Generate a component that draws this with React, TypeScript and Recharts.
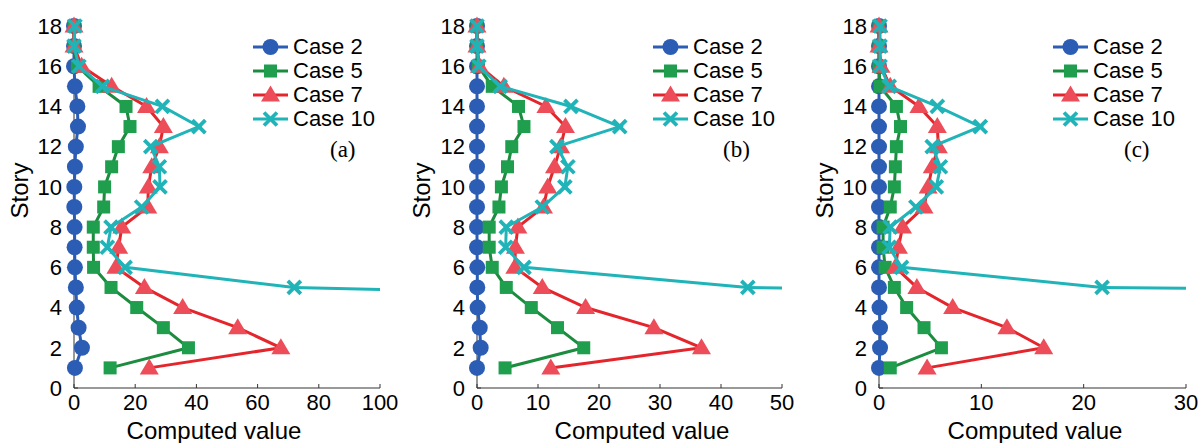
import React from 'react';
import { ScatterChart, Scatter, XAxis, YAxis, Legend } from 'recharts';

// ---------- data ----------
const stories = [1, 2, 3, 4, 5, 6, 7, 8, 9, 10, 11, 12, 13, 14, 15, 16, 17, 18];
const stories10 = [4, 5, 6, 7, 8, 9, 10, 11, 12, 13, 14, 15, 16, 17, 18];
const storyTicks = [0, 2, 4, 6, 8, 10, 12, 14, 16, 18];

const ticksA = [0, 20, 40, 60, 80, 100];
const ticksB = [0, 10, 20, 30, 40, 50];
const ticksC = [0, 10, 20, 30];

const caseNames = ['Case 2', 'Case 5', 'Case 7', 'Case 10'];
const panelLabels = ['(a)', '(b)', '(c)'];

// Panel (a)
const case2A = [0.3, 2.6, 1.5, 0.9, 0.6, 0.3, 0.2, 0.2, 0.1, 0.1, 0.3, 0.6, 1.3, 1.1, 0.3, 0, 0, 0];
const case5A = [11.8, 37.4, 29.2, 20.5, 12.1, 6.4, 6.3, 6.3, 9.7, 10.0, 12.3, 14.5, 18.3, 17.0, 8.2, 1.1, 0, 0];
const case7A = [24.6, 67.6, 53.5, 35.5, 23.0, 13.7, 14.6, 15.6, 24.1, 24.3, 25.4, 27.9, 29.2, 23.7, 12.3, 2.5, 0, 0];
const case10A = [350, 72.0, 16.7, 10.9, 12.1, 22.1, 28.1, 27.9, 25.1, 40.8, 28.9, 9.3, 1.6, 0, 0.3];

// Panel (b)
const case2B = [0, 0.6, 0.45, 0.1, 0.05, 0.05, 0, 0, 0, 0, 0, 0, 0, 0, 0, 0, 0, 0];
const case5B = [4.6, 17.5, 13.2, 8.9, 4.8, 2.5, 2.0, 2.0, 3.6, 4.0, 5.0, 5.7, 7.7, 6.8, 2.5, 0.2, 0, 0];
const case7B = [12.1, 36.8, 29.0, 17.8, 10.7, 6.2, 6.3, 6.7, 10.9, 11.6, 12.7, 13.7, 14.5, 11.3, 4.4, 0.4, 0, 0];
const case10B = [215, 44.4, 7.7, 4.7, 4.8, 10.7, 14.4, 14.9, 13.1, 23.4, 15.4, 3.8, 0.3, 0, 0];

// Panel (c)
const case2C = [0, 0.1, 0.1, 0.05, 0, 0, 0, 0, 0, 0, 0, 0, 0, 0, 0, 0, 0, 0];
const case5C = [1.1, 6.1, 4.4, 2.7, 1.5, 0.6, 0.4, 0.4, 1.1, 1.5, 1.6, 1.7, 2.1, 1.7, 0.1, 0, 0, 0];
const case7C = [4.7, 16.1, 12.5, 7.2, 3.7, 1.6, 1.9, 2.3, 4.4, 4.8, 5.2, 5.8, 5.7, 3.9, 1.1, 0.2, 0, 0];
const case10C = [260, 21.8, 2.2, 1.0, 1.1, 3.6, 5.6, 6.0, 5.2, 9.9, 5.7, 1.0, 0.1, 0.1, 0.1];

// ---------- styles ----------
const BLUE = '#2C5DB4';
const GREEN_LINE = '#1C8C3F';
const GREEN_FILL = '#1F9E4E';
const RED_LINE = '#E4262C';
const RED_FILL = '#EC4D58';
const CYAN = '#20B4B8';
const AXIS = '#333333';
const SANS = '"Liberation Sans", Arial, sans-serif';
const SERIF = '"Liberation Serif", "Times New Roman", serif';

const toPoints = (ys: number[], xs: number[]) => ys.map((y, i) => ({ x: xs[i], y }));

const Circle = (p: any) => <circle cx={p.cx} cy={p.cy} r={8} fill={BLUE} />;
const Square = (p: any) => (
  <rect x={p.cx - 6.5} y={p.cy - 6.5} width={13} height={13} fill={GREEN_FILL} />
);
const Tri = (p: any) => (
  <polygon
    points={`${p.cx},${p.cy - 9.5} ${p.cx - 9.5},${p.cy + 6.5} ${p.cx + 9.5},${p.cy + 6.5}`}
    fill={RED_FILL}
  />
);
const Cross = (p: any) => (
  <g stroke={CYAN} strokeWidth={3.8} strokeLinecap="butt">
    <line x1={p.cx - 6.5} y1={p.cy - 6.5} x2={p.cx + 6.5} y2={p.cy + 6.5} />
    <line x1={p.cx - 6.5} y1={p.cy + 6.5} x2={p.cx + 6.5} y2={p.cy - 6.5} />
  </g>
);
const Nothing = () => <g />;

const legendItems = [
  { color: BLUE, Shape: Circle, width: 3 },
  { color: GREEN_LINE, Shape: Square, width: 3 },
  { color: RED_LINE, Shape: Tri, width: 3 },
  { color: CYAN, Shape: Cross, width: 3 },
];

type PanelProps = {
  left: number;
  width: number;
  plotLeft: number;
  plotRight: number;
  xMax: number;
  xTicks: number[];
  c2: number[];
  c5: number[];
  c7: number[];
  c10: number[];
  tag: string;
  tagOffset: number;
  xLabelX: number;
  storyX: number;
};

const HEIGHT = 443;
const PLOT_TOP = 26;
const PLOT_BOTTOM = 388;
const YAXIS_W = 40;

function Panel(props: PanelProps) {
  const { left, width, plotLeft, plotRight, xMax, xTicks, c2, c5, c7, c10, tag, tagOffset, xLabelX, storyX } = props;
  const d2 = toPoints(stories, c2);
  const d5 = toPoints(stories, c5);
  const d7 = toPoints(stories, c7);
  const d10 = toPoints(stories10, c10);
  const d10main = d10.slice(1);
  const d10tail = d10.slice(0, 2);

  const tickStyle = { fontFamily: SANS, fontSize: 22, fill: '#000' };

  const legendContent = () => (
    <div style={{ fontFamily: SANS, fontSize: 22, color: '#000', lineHeight: '24px' }}>
      {legendItems.map((it, i) => (
        <div key={i} style={{ display: 'flex', alignItems: 'center', height: 24, whiteSpace: 'nowrap' }}>
          <svg width={40} height={24} style={{ overflow: 'visible' }}>
            <line x1={0} y1={12} x2={35} y2={12} stroke={it.color} strokeWidth={it.width} />
            <it.Shape cx={17.5} cy={12} />
          </svg>
          <span>{caseNames[i]}</span>
        </div>
      ))}
      <div style={{ fontFamily: SERIF, fontSize: 23, marginLeft: tagOffset, marginTop: 7 }}>{tag}</div>
    </div>
  );

  return (
    <div style={{ position: 'absolute', left, top: 0, width, height: HEIGHT }}>
      <ScatterChart
        width={width}
        height={HEIGHT}
        margin={{ top: PLOT_TOP, right: width - plotRight, bottom: HEIGHT - PLOT_BOTTOM - 30, left: plotLeft - YAXIS_W }}
        style={{ overflow: 'visible' }}
      >
        <XAxis
          type="number"
          dataKey="x"
          domain={[0, xMax]}
          ticks={xTicks}
          height={30}
          tickSize={-4}
          tickMargin={10}
          tick={tickStyle}
          stroke={AXIS}
          axisLine={{ stroke: AXIS }}
          tickLine={{ stroke: AXIS }}
          label={() => (
            <text x={xLabelX} y={439} textAnchor="middle" fontFamily={SANS} fontSize={24} fill="#000">
              Computed value
            </text>
          )}
        />
        <XAxis
          xAxisId="t"
          type="number"
          dataKey="x"
          orientation="top"
          domain={[0, xMax]}
          ticks={xTicks}
          allowDataOverflow
          height={0}
          tickSize={-4}
          tickFormatter={() => ''}
          stroke={AXIS}
          axisLine={{ stroke: AXIS }}
          tickLine={{ stroke: AXIS }}
        />
        <YAxis
          type="number"
          dataKey="y"
          domain={[0, 18]}
          ticks={storyTicks}
          width={YAXIS_W}
          tickSize={-4}
          tickMargin={16}
          tick={tickStyle}
          stroke={AXIS}
          axisLine={{ stroke: AXIS }}
          tickLine={{ stroke: AXIS }}
          label={() => (
            <text
              x={storyX}
              y={190.5}
              textAnchor="middle"
              fontFamily={SANS}
              fontSize={24}
              fill="#000"
              transform={`rotate(-90, ${storyX}, 190.5)`}
            >
              Story
            </text>
          )}
        />
        <YAxis
          yAxisId="r"
          type="number"
          dataKey="y"
          orientation="right"
          domain={[0, 18]}
          ticks={storyTicks}
          allowDataOverflow
          width={0}
          tickSize={-4}
          tickFormatter={() => ''}
          stroke={AXIS}
          axisLine={{ stroke: AXIS }}
          tickLine={{ stroke: AXIS }}
        />
        <Legend
          content={legendContent}
          layout="vertical"
          align="center"
          verticalAlign="middle"
          wrapperStyle={{ left: 253, top: 35, width: 145 }}
        />
        <Scatter
          name={caseNames[0]}
          data={d2}
          line={{ stroke: BLUE, strokeWidth: 3 }}
          lineType="joint"
          shape={Circle}
          isAnimationActive={false}
        />
        <Scatter
          name={caseNames[1]}
          data={d5}
          line={{ stroke: GREEN_LINE, strokeWidth: 3 }}
          lineType="joint"
          shape={Square}
          isAnimationActive={false}
        />
        <Scatter
          name={caseNames[2]}
          data={d7}
          line={{ stroke: RED_LINE, strokeWidth: 3 }}
          lineType="joint"
          shape={Tri}
          isAnimationActive={false}
        />
        <Scatter
          name="tail"
          legendType="none"
          xAxisId="t"
          yAxisId="r"
          data={d10tail}
          line={{ stroke: CYAN, strokeWidth: 3 }}
          lineType="joint"
          shape={Nothing}
          isAnimationActive={false}
        />
        <Scatter
          name={caseNames[3]}
          data={d10main}
          line={{ stroke: CYAN, strokeWidth: 3 }}
          lineType="joint"
          shape={Cross}
          isAnimationActive={false}
        />
      </ScatterChart>
    </div>
  );
}

export default function App() {
  return (
    <div style={{ position: 'absolute', left: 0, top: 0, width: 1203, height: 443, background: '#fff', overflow: 'hidden' }}>
      <Panel left={0} width={400} plotLeft={74} plotRight={380} xMax={100} xTicks={ticksA}
        c2={case2A} c5={case5A} c7={case7A} c10={case10A} tag={panelLabels[0]} tagOffset={77} xLabelX={214} storyX={27.5} />
      <Panel left={400} width={400} plotLeft={77} plotRight={382} xMax={50} xTicks={ticksB}
        c2={case2B} c5={case5B} c7={case7B} c10={case10B} tag={panelLabels[1]} tagOffset={70} xLabelX={242} storyX={29.5} />
      <Panel left={800} width={403} plotLeft={79} plotRight={386} xMax={30} xTicks={ticksC}
        c2={case2C} c5={case5C} c7={case7C} c10={case10C} tag={panelLabels[2]} tagOffset={71} xLabelX={235} storyX={32.5} />
    </div>
  );
}
